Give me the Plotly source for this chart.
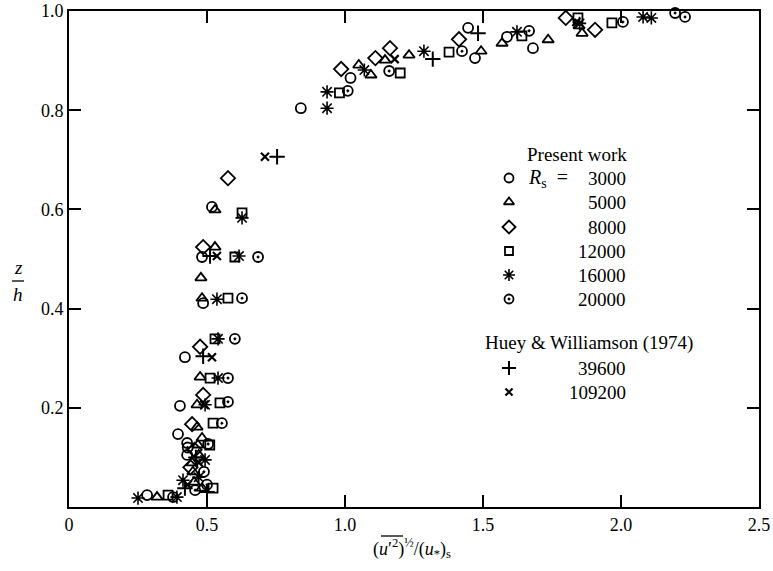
import plotly.graph_objects as go

# ---- data (x = (u'^2)^1/2/(u*)_s, y = z/h) ----
x_3000 = [0.84, 1.02, 1.446, 1.471, 1.587, 1.681, 0.518, 0.482, 0.486, 0.42, 0.402, 0.395, 0.428, 0.428, 0.283]
y_3000 = [0.804, 0.865, 0.966, 0.905, 0.948, 0.925, 0.605, 0.504, 0.411, 0.302, 0.204, 0.147, 0.129, 0.105, 0.024]

x_5000 = [1.05, 1.094, 1.145, 1.232, 1.493, 1.569, 1.736, 1.859, 1.848, 0.529, 0.529, 0.478, 0.482, 0.475, 0.464,
          0.464, 0.482, 0.467, 0.446, 0.449, 0.453, 0.482, 0.319, 0.47]
y_5000 = [0.891, 0.871, 0.901, 0.911, 0.919, 0.935, 0.942, 0.955, 0.97, 0.599, 0.524, 0.462, 0.421, 0.262, 0.206,
          0.161, 0.139, 0.125, 0.089, 0.071, 0.05, 0.038, 0.02, 0.105]

x_8000 = [0.986, 1.11, 1.163, 1.413, 1.80, 1.906, 0.576, 0.486, 0.475, 0.486, 0.446, 0.44, 0.455]
y_8000 = [0.883, 0.905, 0.925, 0.943, 0.986, 0.962, 0.663, 0.524, 0.323, 0.226, 0.167, 0.08, 0.115]

x_12000 = [0.98, 1.2, 1.377, 1.641, 1.844, 1.967, 0.627, 0.601, 0.576, 0.529, 0.511, 0.547, 0.522, 0.522, 0.359, 0.51]
y_12000 = [0.835, 0.875, 0.917, 0.95, 0.986, 0.976, 0.593, 0.504, 0.421, 0.339, 0.26, 0.21, 0.169, 0.038, 0.024, 0.125]

x_16000 = [0.935, 0.935, 1.07, 1.286, 1.623, 1.85, 2.08, 2.11, 0.627, 0.616, 0.536, 0.54, 0.54, 0.493, 0.493,
           0.413, 0.25, 0.391, 0.47]
y_16000 = [0.804, 0.837, 0.881, 0.919, 0.958, 0.975, 0.988, 0.986, 0.583, 0.506, 0.419, 0.339, 0.26, 0.206, 0.095,
           0.054, 0.018, 0.02, 0.06]

x_20000 = [1.01, 1.16, 1.424, 1.667, 2.007, 2.196, 2.232, 0.685, 0.627, 0.601, 0.576, 0.576, 0.554, 0.504, 0.489,
           0.457, 0.377, 0.43, 0.5]
y_20000 = [0.839, 0.879, 0.919, 0.96, 0.978, 0.996, 0.988, 0.504, 0.421, 0.339, 0.26, 0.212, 0.169, 0.127, 0.071,
           0.034, 0.02, 0.12, 0.045]

x_39600 = [0.754, 1.318, 1.482, 0.511, 0.486, 0.42, 0.46, 0.5]
y_39600 = [0.706, 0.903, 0.955, 0.506, 0.304, 0.038, 0.10, 0.03]

x_109200 = [0.71, 1.18, 1.838, 0.536, 0.518, 0.49, 0.43, 0.47]
y_109200 = [0.706, 0.903, 0.978, 0.506, 0.302, 0.206, 0.045, 0.09]

present_labels = ["3000", "5000", "8000", "12000", "16000", "20000"]
huey_labels = ["39600", "109200"]

x_ticks = [0, 0.5, 1.0, 1.5, 2.0, 2.5]
x_ticktext = ["0", "0.5", "1.0", "1.5", "2.0", "2.5"]
y_ticks = [0.2, 0.4, 0.6, 0.8, 1.0]
y_ticktext = ["0.2", "0.4", "0.6", "0.8", "1.0"]

# ---- styles ----
SERIF = "Liberation Serif"
series = [
    (x_3000, y_3000, "circle-open", 10, 1.8),
    (x_5000, y_5000, "triangle-up-open", 10, 1.8),
    (x_8000, y_8000, "diamond-open", 11, 1.8),
    (x_12000, y_12000, "square-open", 9, 1.8),
    (x_16000, y_16000, "asterisk-open", 11, 1.6),
    (x_20000, y_20000, "circle-open-dot", 10, 1.8),
    (x_39600, y_39600, "cross-thin-open", 11, 2.0),
    (x_109200, y_109200, "x-thin-open", 8, 2.2),
]

fig = go.Figure()
for xs, ys, sym, size, lw in series:
    fig.add_trace(go.Scatter(
        x=xs, y=ys, mode="markers", showlegend=False, cliponaxis=False,
        marker=dict(symbol=sym, size=size, color="black", line=dict(color="black", width=lw)),
    ))

# ---- legend (drawn as keys + text) ----
PX = 276.0   # pixels per x unit
PY = 496.0   # pixels per y unit
LEG_KEY_X = (509 - 69) / PX
LEG_NUM_X = (628 - 69) / PX
legend_rows_y = [(507 - p) / PY for p in (178, 202, 227, 251, 275, 299, 368, 392)]
for i, (xs, ys, sym, size, lw) in enumerate(series):
    row_y = legend_rows_y[i]
    fig.add_trace(go.Scatter(
        x=[LEG_KEY_X], y=[row_y], mode="markers", showlegend=False, cliponaxis=False,
        marker=dict(symbol=sym, size=size - 1, color="black", line=dict(color="black", width=lw)),
    ))
    label = (present_labels + huey_labels)[i]
    fig.add_annotation(x=LEG_NUM_X, y=row_y, xref="x", yref="y", text=label, showarrow=False,
                       xanchor="right", yanchor="middle", font=dict(family=SERIF, size=19, color="black"))

fig.add_annotation(x=(526 - 69) / PX, y=legend_rows_y[0], xref="x", yref="y",
                   text="<i>R</i><sub>s</sub>&nbsp;&nbsp;=", showarrow=False, xanchor="left", yanchor="middle",
                   font=dict(family=SERIF, size=20, color="black"))
fig.add_annotation(x=(577 - 69) / PX, y=(507 - 154) / PY, xref="x", yref="y", text="Present work",
                   showarrow=False, xanchor="center", yanchor="middle",
                   font=dict(family=SERIF, size=19, color="black"))
fig.add_annotation(x=(589 - 69) / PX, y=(507 - 343) / PY, xref="x", yref="y", text="Huey & Williamson (1974)",
                   showarrow=False, xanchor="center", yanchor="middle",
                   font=dict(family=SERIF, size=19, color="black"))

# ---- axis titles ----
fig.add_annotation(x=(412 - 69) / 690, y=-(548 - 507) / 496, xref="paper", yref="paper",
                   text="(<i>u</i>′<sup>2</sup>)<sup>½</sup>/(<i>u</i><sub>*</sub>)<sub>s</sub>",
                   showarrow=False, xanchor="center", yanchor="middle",
                   font=dict(family=SERIF, size=18, color="black"))
fig.add_shape(type="line", xref="paper", yref="paper",
              x0=(381 - 69) / 690, x1=(403 - 69) / 690, y0=-(536 - 507) / 496, y1=-(536 - 507) / 496,
              line=dict(color="black", width=1.3))
fig.add_annotation(x=-(69 - 18) / 690, y=(507 - 267) / 496, xref="paper", yref="paper", text="<i>z</i>",
                   showarrow=False, xanchor="center", yanchor="middle",
                   font=dict(family=SERIF, size=19, color="black"))
fig.add_annotation(x=-(69 - 18) / 690, y=(507 - 295) / 496, xref="paper", yref="paper", text="<i>h</i>",
                   showarrow=False, xanchor="center", yanchor="middle",
                   font=dict(family=SERIF, size=19, color="black"))
fig.add_shape(type="line", xref="paper", yref="paper",
              x0=-(69 - 12) / 690, x1=-(69 - 24) / 690, y0=(507 - 281) / 496, y1=(507 - 281) / 496,
              line=dict(color="black", width=1.3))

axis_common = dict(showgrid=False, zeroline=False, showline=True, linecolor="black", linewidth=2,
                   ticks="inside", ticklen=12, tickwidth=2, tickcolor="black", mirror="ticks",
                   automargin=False,
                   tickfont=dict(family=SERIF, size=18, color="black"))
fig.update_xaxes(range=[0, 2.5], tickvals=x_ticks, ticktext=x_ticktext, **axis_common)
fig.update_yaxes(range=[0, 1.0], tickvals=y_ticks, ticktext=y_ticktext, **axis_common)

fig.update_layout(
    width=773, height=571, plot_bgcolor="white", paper_bgcolor="white",
    margin=dict(l=69, r=14, t=11, b=64),
    showlegend=False,
)

fig.write_html("out.html")
